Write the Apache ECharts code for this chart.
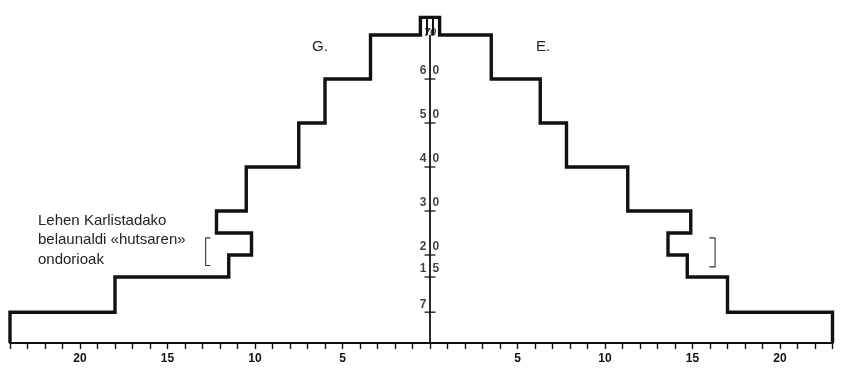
<!DOCTYPE html>
<html>
<head>
<meta charset="utf-8">
<script src="https://cdn.jsdelivr.net/npm/echarts@6/dist/echarts.min.js"></script>
<style>
  html, body { margin: 0; padding: 0; background: #fff; }
  #chart { width: 843px; height: 373px; }
</style>
</head>
<body>
<div id="chart"></div>
<script>
// Age-group boundaries (years) and bar half-widths (population units)
var ageBreaks = [0, 7, 15, 20, 25, 30, 40, 50, 60, 70, 74];
var men   = [24, 18, 11.5, 10.2, 12.2, 10.5, 7.5, 6.0, 3.4, 0.55];   // G. (left)
var women = [23, 17, 14.7, 13.6, 14.9, 11.3, 7.8, 6.3, 3.5, 0.55];   // E. (right)
var topInner = 0.17;                 // inner divider of the 70+ box
// Y-axis tick ages and their labels
var yTicks = [7, 15, 20, 30, 40, 50, 60];
var yTickLabels = ['7', '15', '20', '30', '40', '50', '60'];
var topLabel = '70';
var topAge = 70;
// X-axis labelled values
var xLabelValues = [5, 10, 15, 20];
// Annotation brackets (population units, ages)
var bracketLeft  = [[-12.55, 23.9], [-12.82, 23.9], [-12.82, 17.6], [-12.55, 17.6]];
var bracketRight = [[15.96, 23.9], [16.29, 23.9], [16.29, 17.3], [15.96, 17.3]];

// Build outline from the arrays
var outline = [];
for (var i = 0; i < men.length; i++) {
  outline.push([-men[i], ageBreaks[i]]);
  outline.push([-men[i], ageBreaks[i + 1]]);
}
for (var j = women.length - 1; j >= 0; j--) {
  outline.push([women[j], ageBreaks[j + 1]]);
  outline.push([women[j], ageBreaks[j]]);
}
var n = ageBreaks.length;
var innerL = [[-topInner, ageBreaks[n - 2]], [-topInner, ageBreaks[n - 1]]];
var innerR = [[topInner, ageBreaks[n - 2]], [topInner, ageBreaks[n - 1]]];
var axisV = [[0, 0], [0, topAge]];

var tickData = yTicks.map(function (a) { return [0, a]; });
var leftLabData = yTicks.map(function (a, k) { return { value: [0, a], label: { formatter: yTickLabels[k].charAt(0) } }; });
var rightLabData = [];
yTicks.forEach(function (a, k) {
  if (yTickLabels[k].length > 1) rightLabData.push({ value: [0, a], label: { formatter: yTickLabels[k].slice(1) } });
});

var chart = echarts.init(document.getElementById('chart'), null, { renderer: 'canvas' });
var black = '#111';
var tickFont = { fontFamily: 'Liberation Sans', fontWeight: 'bold', fontSize: 12, color: black };

chart.setOption({
  animation: false,
  backgroundColor: '#fff',
  grid: { left: 10, right: 10.5, top: 17.4, bottom: 30, containLabel: false },
  xAxis: {
    type: 'value', min: -24, max: 23, interval: 1,
    axisLine: { show: true, onZero: false, lineStyle: { color: black, width: 2.2 } },
    axisTick: { show: true, inside: false, length: 6, lineStyle: { color: black, width: 1.4 } },
    splitLine: { show: false },
    axisLabel: {
      show: true, margin: 10, fontFamily: 'Liberation Sans', fontWeight: 'bold', fontSize: 12, color: black,
      showMinLabel: true, showMaxLabel: true,
      formatter: function (v) {
        var a = Math.abs(Math.round(v));
        return xLabelValues.indexOf(a) >= 0 ? String(a) : '';
      }
    }
  },
  yAxis: { type: 'value', min: 0, max: 74, show: false },
  graphic: [
    { type: 'text', left: 312, top: 39, style: { text: 'G.', font: '15px "Liberation Sans"', fill: '#222' } },
    { type: 'text', left: 536, top: 39, style: { text: 'E.', font: '15px "Liberation Sans"', fill: '#222' } },
    { type: 'text', left: 38, top: 211, style: {
        text: 'Lehen Karlistadako\nbelaunaldi «hutsaren»\nondorioak',
        font: '15px "Liberation Sans"', lineHeight: 19.5, fill: '#222' } }
  ],
  series: [
    { type: 'line', data: outline, showSymbol: false, clip: false, silent: true,
      lineStyle: { color: black, width: 3.4, join: 'miter' } },
    { type: 'line', data: innerL, showSymbol: false, clip: false, silent: true, lineStyle: { color: black, width: 2 } },
    { type: 'line', data: innerR, showSymbol: false, clip: false, silent: true, lineStyle: { color: black, width: 2 } },
    { type: 'line', data: axisV, showSymbol: false, clip: false, silent: true, lineStyle: { color: black, width: 1.8 } },
    { type: 'line', data: bracketLeft, showSymbol: false, silent: true, lineStyle: { color: '#333', width: 1.1 } },
    { type: 'line', data: bracketRight, showSymbol: false, silent: true, lineStyle: { color: '#333', width: 1.1 } },
    { type: 'scatter', data: tickData, symbol: 'rect', symbolSize: [11, 1.6], silent: true,
      itemStyle: { color: black } },
    { type: 'scatter', data: leftLabData, symbolSize: 1, silent: true, itemStyle: { color: 'rgba(0,0,0,0)' },
      label: Object.assign({ show: true, position: 'left', distance: 3, offset: [0, -8] }, tickFont) },
    { type: 'scatter', data: rightLabData, symbolSize: 1, silent: true, itemStyle: { color: 'rgba(0,0,0,0)' },
      label: Object.assign({ show: true, position: 'right', distance: 2, offset: [0, -8] }, tickFont) },
    { type: 'scatter', data: [{ value: [0, topAge], label: { formatter: topLabel } }], symbolSize: 1, silent: true,
      itemStyle: { color: 'rgba(0,0,0,0)' },
      label: Object.assign({ show: true, position: 'inside', offset: [0, -2] }, tickFont, { fontStyle: 'italic', fontSize: 11 }) }
  ]
});
</script>
</body>
</html>
